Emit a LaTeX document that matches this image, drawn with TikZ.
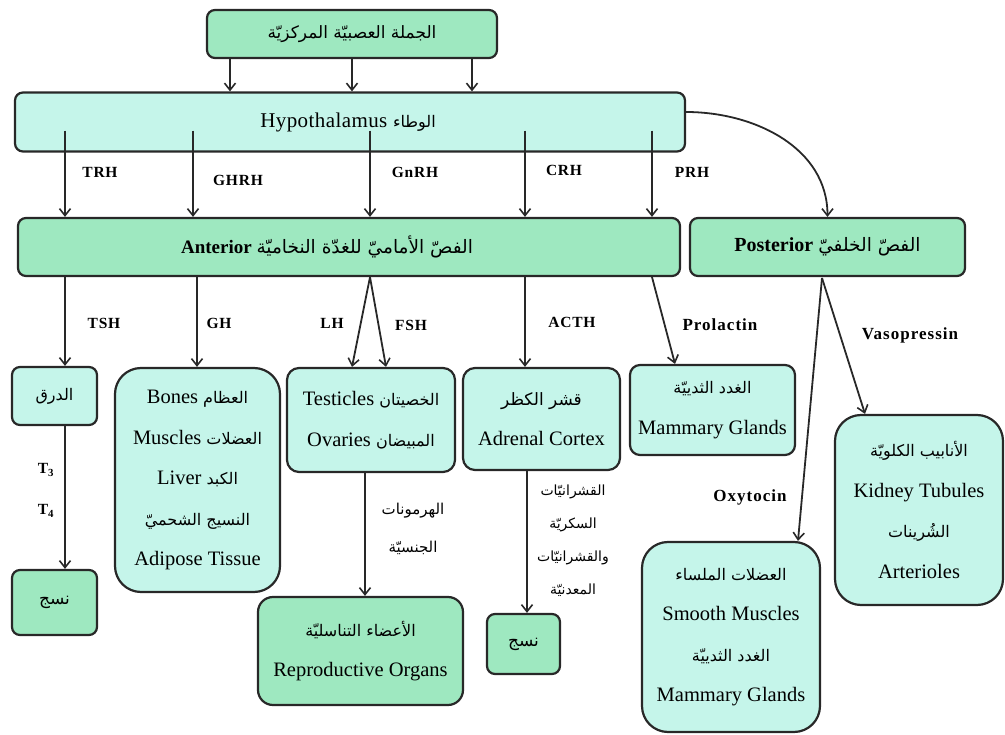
\documentclass[tikz,border=0pt]{standalone}
\usepackage{fontspec}
\setmainfont{Liberation Serif}
\newfontfamily\ar[Script=Arabic]{DejaVu Sans}
\TeXXeTstate=1
\usetikzlibrary{arrows.meta,calc}
\newcommand{\AR}[2][16]{{\ar\mdseries\fontsize{#1}{40}\selectfont\beginR #2\endR}}
\definecolor{gfill}{RGB}{158,232,192}
\definecolor{cfill}{RGB}{197,245,234}
\definecolor{edge}{RGB}{40,40,40}
\tikzset{
  box/.style={draw=edge,line width=2.2pt,rounded corners=#1,inner sep=0pt,align=center,
    font=\fontsize{20.5}{40.5}\selectfont},
  gbox/.style={box=#1,fill=gfill},
  cbox/.style={box=#1,fill=cfill},
  arr/.style={draw=edge,line width=1.8pt,-{Straight Barb[length=7pt,width=11pt,line width=1.6pt]}},
  lbl/.style={font=\bfseries\fontsize{15.5}{18}\selectfont\addfontfeature{LetterSpace=5},inner sep=0pt},
  lblw/.style={font=\bfseries\fontsize{17}{18}\selectfont\addfontfeature{LetterSpace=6},inner sep=0pt},
  sublbl/.style={inner sep=0pt,align=center},
}
\begin{document}
\begin{tikzpicture}[x=1pt,y=-1pt]
\useasboundingbox (0,0) rectangle (1005,735);
% boxes
\node[gbox=8pt,minimum width=290pt,minimum height=48pt] (cns) at (352,34) {\AR[17]{الجملة العصبيّة المركزيّة}};
\node[cbox=8pt,minimum width=670pt,minimum height=59pt] (hyp) at (350,122)
  {\fontsize{21}{24}\selectfont\addfontfeature{LetterSpace=2}Hypothalamus \AR[16]{الوطاء}\hspace*{4pt}};
\node[gbox=8pt,minimum width=662pt,minimum height=58pt] (ant) at (349,247)
  {\bfseries\fontsize{19}{24}\selectfont Anterior \AR[18.5]{الفصّ الأماميّ للغدّة النخاميّة}\hspace*{44pt}};
\node[gbox=8pt,minimum width=275pt,minimum height=58pt] (post) at (827.5,247)
  {\bfseries\fontsize{20}{24}\selectfont Posterior \AR[18.5]{الفصّ الخلفيّ}};
\node[cbox=8pt,minimum width=85pt,minimum height=58pt] (thy) at (54.5,396) {\AR{الدرق}};
\node[cbox=26pt,minimum width=165pt,minimum height=224pt] (bones) at (197.5,480)
  {Bones \AR{العظام}\\Muscles \AR{العضلات}\\Liver \AR{الكبد}\\\AR{النسيج الشحميّ}\\Adipose Tissue};
\node[cbox=12pt,minimum width=168pt,minimum height=104pt] (gon) at (371,420)
  {Testicles \AR{الخصيتان}\\Ovaries \AR{المبيضان}};
\node[cbox=12pt,minimum width=157pt,minimum height=102pt] (adr) at (541.5,419)
  {\AR[17]{قشر الكظر}\\Adrenal Cortex};
\node[cbox=10pt,minimum width=165pt,minimum height=90pt] (mam) at (712.5,410)
  {\AR{الغدد الثدييّة}\\Mammary Glands};
\node[cbox=26pt,minimum width=168pt,minimum height=190pt] (kid) at (919,510)
  {\AR{الأنابيب الكلويّة}\\Kidney Tubules\\\AR{الشُرينات}\\Arterioles};
\node[cbox=26pt,minimum width=178pt,minimum height=190pt] (smo) at (731,637)
  {\AR{العضلات الملساء}\\Smooth Muscles\\\AR{الغدد الثدييّة}\\Mammary Glands};
\node[gbox=8pt,minimum width=85pt,minimum height=65pt] (tis1) at (54.5,602.5) {\AR[17]{نسج}};
\node[gbox=15pt,minimum width=205pt,minimum height=108pt] (rep) at (360.5,651)
  {\AR{الأعضاء التناسليّة}\\Reproductive Organs};
\node[gbox=8pt,minimum width=73pt,minimum height=60pt] (tis2) at (523.5,644) {\AR[17]{نسج}};
% x positions
\coordinate (xa) at (230,0);
\coordinate (xb) at (352,0);
\coordinate (xc) at (472,0);
\coordinate (h1) at (65,0);
\coordinate (h2) at (193,0);
\coordinate (h3) at (370,0);
\coordinate (h4) at (525,0);
\coordinate (h5) at (652,0);
% CNS -> hypothalamus
\draw[arr] (cns.south -| xa) -- (hyp.north -| xa);
\draw[arr] (cns.south -| xb) -- (hyp.north -| xb);
\draw[arr] (cns.south -| xc) -- (hyp.north -| xc);
% hypothalamus -> anterior
\draw[arr] ([yshift=22pt]hyp.south -| h1) -- (ant.north -| h1);
\draw[arr] ([yshift=22pt]hyp.south -| h2) -- (ant.north -| h2);
\draw[arr] ([yshift=22pt]hyp.south -| h3) -- (ant.north -| h3);
\draw[arr] ([yshift=22pt]hyp.south -| h4) -- (ant.north -| h4);
\draw[arr] ([yshift=22pt]hyp.south -| h5) -- (ant.north -| h5);
\draw[arr] ([yshift=10pt]hyp.east) to[out=0,in=90] (post.north);
\node[lbl] (trh) at (100,172) {TRH};
\node[lbl] (ghrh) at (238,180) {GHRH};
\node[lbl] (gnrh) at (415,172) {GnRH};
\node[lbl] (crh) at (564,170) {CRH};
\node[lbl] (prh) at (692,172) {PRH};
% anterior -> targets
\draw[arr] (ant.south -| h1) -- (thy.north -| h1);
\draw[arr] (ant.south -| 197,0) -- (bones.north -| 197,0);
\draw[arr] (ant.south -| h3) -- (gon.north -| 352,0);
\draw[arr] (ant.south -| h3) -- (gon.north -| 386,0);
\draw[arr] (ant.south -| h4) -- (adr.north -| h4);
\draw[arr] (ant.south -| h5) -- (mam.north -| 675,0);
\node[lbl] (tsh) at (104,323) {TSH};
\node[lbl] (gh) at (219,323) {GH};
\node[lbl] (lh) at (332,323) {LH};
\node[lbl] (fsh) at (411,325) {FSH};
\node[lbl] (acth) at (572,322) {ACTH};
\node[lblw] (prl) at (720,325) {Prolactin};
% posterior -> targets
\coordinate (pp) at (822,278);
\draw[arr] (pp) -- (smo.north -| 798,0);
\draw[arr] (pp) -- (kid.north -| 865,0);
\node[lblw] (vas) at (910,335) {Vasopressin};
\node[lblw] (oxy) at (750,497) {Oxytocin};
% second level
\draw[arr] (thy.south -| h1) -- (tis1.north -| h1);
\node[lbl] (t3) at (46,470) {T\textsubscript{3}};
\node[lbl] (t4) at (46,511) {T\textsubscript{4}};
\draw[arr] (gon.south -| 365,0) -- (rep.north -| 365,0);
\node[sublbl,font=\fontsize{15}{38}\selectfont] (sexh) at (413,529) {\AR[15]{الهرمونات}\\\AR[15]{الجنسيّة}};
\draw[arr] (adr.south -| 527,0) -- (tis2.north -| 527,0);
\node[sublbl,font=\fontsize{15}{33}\selectfont] (cort) at (573,541) {\AR[14]{القشرانيّات}\\\AR[14]{السكريّة}\\\AR[14]{والقشرانيّات}\\\AR[14]{المعدنيّة}};
\end{tikzpicture}
\end{document}
